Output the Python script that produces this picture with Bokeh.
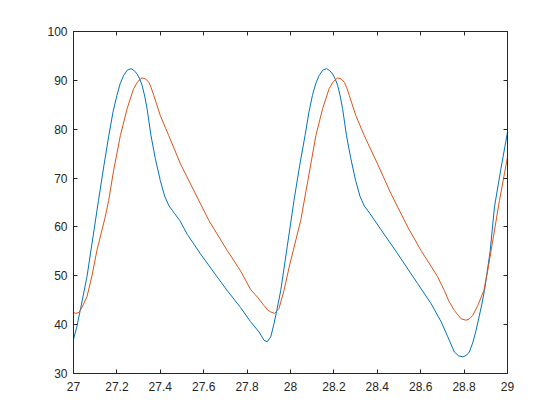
from bokeh.plotting import figure
from bokeh.models import LinearAxis, Range1d, FixedTicker
from bokeh.embed import file_html
from bokeh.resources import INLINE

# Data
blue_x = [27.000, 27.015, 27.031, 27.062, 27.090, 27.115, 27.140, 27.162, 27.182, 27.200,
          27.215, 27.231, 27.248, 27.265, 27.280, 27.293, 27.305, 27.316, 27.328, 27.339,
          27.357, 27.377, 27.400, 27.420, 27.440, 27.465, 27.490, 27.524, 27.585, 27.650,
          27.708, 27.770, 27.816, 27.855, 27.878, 27.893, 27.909, 27.924, 27.940, 27.955,
          27.985, 28.016, 28.042, 28.067, 28.085, 28.101, 28.116, 28.132, 28.149, 28.166,
          28.181, 28.194, 28.206, 28.217, 28.229, 28.240, 28.258, 28.278, 28.300, 28.320,
          28.340, 28.365, 28.393, 28.416, 28.494, 28.586, 28.648, 28.694, 28.725, 28.755,
          28.775, 28.794, 28.810, 28.824, 28.840, 28.855, 28.879, 28.894, 28.920, 28.940,
          28.970, 29.000]
blue_y = [37.0, 39.5, 42.9, 49.8, 58.0, 65.4, 72.5, 78.5, 83.5, 86.9,
          89.3, 91.0, 92.1, 92.4, 92.0, 91.3, 90.3, 89.0, 86.8, 84.2,
          78.7, 74.0, 69.5, 66.3, 64.3, 62.8, 61.3, 58.5, 54.5, 50.5,
          47.0, 43.5, 40.6, 38.5, 36.8, 36.5, 37.5, 40.2, 43.6, 47.0,
          56.0, 65.4, 72.5, 78.7, 83.5, 86.9, 89.3, 91.0, 92.1, 92.4,
          92.0, 91.3, 90.3, 89.0, 86.8, 84.2, 78.7, 74.0, 69.5, 66.3,
          64.3, 62.8, 61.0, 59.5, 54.5, 48.4, 44.3, 40.6, 37.5, 34.4,
          33.6, 33.4, 33.7, 34.4, 36.3, 38.8, 43.6, 47.0, 55.0, 64.1,
          72.0, 79.4]

orange_x = [27.000, 27.010, 27.025, 27.040, 27.062, 27.085, 27.108, 27.146, 27.162, 27.185,
            27.216, 27.247, 27.277, 27.297, 27.316, 27.332, 27.347, 27.358, 27.370, 27.400,
            27.439, 27.493, 27.554, 27.624, 27.708, 27.770, 27.816, 27.850, 27.878, 27.895,
            27.909, 27.927, 27.947, 27.970, 27.995, 28.020, 28.047, 28.080, 28.117, 28.148,
            28.178, 28.198, 28.217, 28.233, 28.248, 28.259, 28.271, 28.301, 28.340, 28.401,
            28.463, 28.540, 28.601, 28.650, 28.678, 28.694, 28.709, 28.730, 28.755, 28.786,
            28.809, 28.825, 28.840, 28.863, 28.891, 28.909, 28.935, 28.963, 29.000]
orange_y = [42.5, 42.3, 42.5, 43.6, 45.7, 50.0, 55.2, 62.0, 65.4, 71.6,
            78.7, 84.2, 88.3, 89.8, 90.5, 90.3, 89.6, 88.5, 86.9, 82.8,
            78.7, 72.9, 67.5, 61.3, 55.2, 51.0, 47.2, 45.5, 43.9, 43.0,
            42.6, 42.3, 43.3, 47.0, 52.0, 56.5, 61.3, 69.5, 78.7, 84.2,
            88.3, 89.8, 90.5, 90.3, 89.6, 88.5, 86.9, 82.8, 78.7, 72.9,
            66.8, 60.0, 55.2, 51.8, 49.8, 48.3, 47.0, 44.8, 42.9, 41.2,
            40.9, 41.2, 41.9, 43.9, 47.0, 51.1, 58.0, 65.4, 74.3]

x_ticks = [27, 27.2, 27.4, 27.6, 27.8, 28, 28.2, 28.4, 28.6, 28.8, 29]
y_ticks = [30, 40, 50, 60, 70, 80, 90, 100]

AX = "#262626"
FONT = "Liberation Sans"

p = figure(width=544, height=404, output_backend="svg", toolbar_location=None,
           x_range=Range1d(27, 29), y_range=Range1d(30, 100),
           min_border_left=73, min_border_right=37, min_border_top=31, min_border_bottom=31)
p.grid.visible = False
p.outline_line_color = AX
p.outline_line_width = 1
p.background_fill_color = "white"
p.border_fill_color = "white"

p.line(blue_x, blue_y, line_color="#0072BD", line_width=1.0)
p.line(orange_x, orange_y, line_color="#D95319", line_width=1.0)

def style(ax, labels=True):
    ax.axis_line_color = AX
    ax.major_tick_line_color = AX
    ax.major_tick_in = 4
    ax.major_tick_out = 0
    ax.minor_tick_line_color = None
    ax.major_label_text_font = FONT
    ax.major_label_text_font_size = "12px"
    ax.major_label_text_color = AX
    if not labels:
        ax.major_label_text_font_size = "0px"
        ax.major_label_text_alpha = 0

for ax in p.xaxis:
    ax.ticker = FixedTicker(ticks=x_ticks)
    ax.major_label_overrides = {t: (str(t) if t != int(t) else str(int(t))) for t in x_ticks}
    style(ax)
    ax.major_label_standoff = 8
for ax in p.yaxis:
    ax.ticker = FixedTicker(ticks=y_ticks)
    style(ax)
    ax.major_label_standoff = 6

top = LinearAxis(ticker=FixedTicker(ticks=x_ticks))
style(top, labels=False)
p.add_layout(top, "above")
right = LinearAxis(ticker=FixedTicker(ticks=y_ticks))
style(right, labels=False)
p.add_layout(right, "right")

open("out.html", "w").write(file_html(p, INLINE))
